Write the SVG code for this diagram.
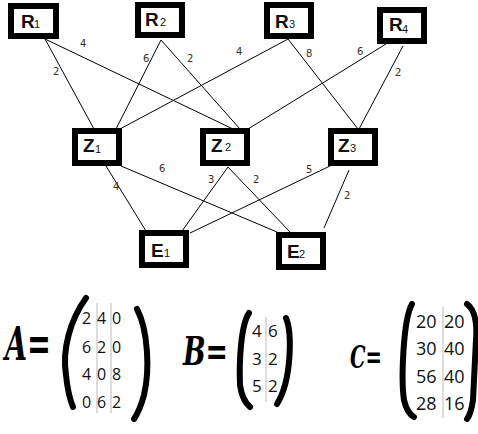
<svg xmlns="http://www.w3.org/2000/svg" width="478" height="434" viewBox="0 0 478 434">
<style>
.box{fill:#fff;stroke:#000;stroke-width:6}
.nl{font-family:"Liberation Sans",Arial,sans-serif;font-weight:bold;font-size:19px;fill:#111}
.sub{font-family:"Liberation Sans",Arial,sans-serif;font-size:11px;fill:#111}
.edge{stroke:#000;stroke-width:1;fill:none}
.el{font-family:"DejaVu Sans",Verdana,sans-serif;font-size:10px;fill:#3a3020}
.md{font-family:"Open Sans","Noto Sans",sans-serif;fill:#111}
.sep{stroke:#bbb;stroke-width:1}
.par{fill:none;stroke:#000;stroke-width:6;stroke-linecap:round}
.hw{font-family:"DejaVu Serif",serif;font-weight:bold;font-style:italic;fill:#000}
</style>
<rect width="478" height="434" fill="#fff"/>
<g id="connectors">
<line class="edge" x1="45" y1="39" x2="94" y2="129"/>
<line class="edge" x1="45" y1="39" x2="233" y2="129"/>
<line class="edge" x1="161" y1="40" x2="116" y2="129"/>
<line class="edge" x1="161" y1="40" x2="240" y2="129"/>
<line class="edge" x1="288" y1="39" x2="120" y2="129"/>
<line class="edge" x1="288" y1="39" x2="358" y2="129"/>
<line class="edge" x1="386" y1="44" x2="248" y2="129"/>
<line class="edge" x1="403" y1="46" x2="359" y2="129"/>
<line class="edge" x1="106" y1="166" x2="146" y2="231"/>
<line class="edge" x1="121" y1="166" x2="277" y2="232"/>
<line class="edge" x1="228" y1="167" x2="182" y2="231"/>
<line class="edge" x1="228" y1="167" x2="290" y2="232"/>
<line class="edge" x1="330" y1="166" x2="190" y2="233"/>
<line class="edge" x1="349" y1="170" x2="324" y2="228"/>
<text class="el" x="53" y="75">2</text>
<text class="el" x="80" y="47">4</text>
<text class="el" x="143" y="62">6</text>
<text class="el" x="187" y="62">2</text>
<text class="el" x="236" y="55">4</text>
<text class="el" x="306" y="57">8</text>
<text class="el" x="357" y="55">6</text>
<text class="el" x="395" y="76">2</text>
<text class="el" x="113" y="190">4</text>
<text class="el" x="159" y="172">6</text>
<text class="el" x="208" y="183">3</text>
<text class="el" x="253" y="183">2</text>
<text class="el" x="306" y="173">5</text>
<text class="el" x="344" y="199">2</text>
</g>
<g id="R1"><rect class="box" x="11" y="6" width="45" height="30"/><text class="nl" x="21" y="28">R</text><text class="sub" x="34" y="28">1</text></g>
<g id="R2"><rect class="box" x="138" y="5" width="44" height="30"/><text class="nl" x="145" y="26">R</text><text class="sub" x="160" y="26">2</text></g>
<g id="R3"><rect class="box" x="267" y="5" width="44" height="31"/><text class="nl" x="275" y="28">R</text><text class="sub" x="289" y="28">3</text></g>
<g id="R4"><rect class="box" x="380" y="10" width="44" height="31"/><text class="nl" x="389" y="31">R</text><text class="sub" x="402" y="33">4</text></g>
<g id="Z1"><rect class="box" x="75" y="131" width="44" height="32"/><text class="nl" x="83" y="152">Z</text><text class="sub" x="95" y="153">1</text></g>
<g id="Z2"><rect class="box" x="203" y="131" width="44" height="32"/><text class="nl" x="211" y="152">Z</text><text class="sub" x="225" y="151">2</text></g>
<g id="Z3"><rect class="box" x="331" y="131" width="44" height="32"/><text class="nl" x="338" y="152">Z</text><text class="sub" x="350" y="152">3</text></g>
<g id="E1"><rect class="box" x="142" y="233" width="44" height="32"/><text class="nl" x="151" y="257">E</text><text class="sub" x="164" y="257">1</text></g>
<g id="E2"><rect class="box" x="279" y="235" width="44" height="32"/><text class="nl" x="287" y="258">E</text><text class="sub" x="299" y="258">2</text></g>
<g id="matrixA">
<text class="hw" x="5" y="360" font-size="46" textLength="46" lengthAdjust="spacingAndGlyphs">A=</text>
<path class="par" d="M86,298 C70,320 62,350 66,375 Q68,395 73,407"/>
<path class="par" d="M137,309 C148,330 150,370 144,395 Q140,410 134,419"/>
<line class="sep" x1="97" y1="303" x2="97" y2="413"/>
<line class="sep" x1="111" y1="303" x2="111" y2="413"/>
<g class="md" font-size="16">
<text x="82 97 112" y="324">240</text>
<text x="82 97 112" y="353">620</text>
<text x="82 97 112" y="380">408</text>
<text x="82 97 112" y="408">062</text>
</g>
</g>
<g id="matrixB">
<text class="hw" x="183" y="365" font-size="40" textLength="45" lengthAdjust="spacingAndGlyphs">B=</text>
<path class="par" d="M249,313 C241,325 239,360 240,385 Q242,400 250,407"/>
<path class="par" d="M286,318 C292,332 292,380 277,404"/>
<line class="sep" x1="266" y1="317" x2="266" y2="402"/>
<g class="md" font-size="17">
<text x="252 268" y="337">46</text>
<text x="252 268" y="365">32</text>
<text x="252 268" y="392">52</text>
</g>
</g>
<g id="matrixC">
<text class="hw" x="350" y="368" font-size="32" textLength="32" lengthAdjust="spacingAndGlyphs">C=</text>
<path class="par" d="M412,304 C403,320 401,380 404,400 Q407,413 414,417"/>
<path class="par" d="M467,304 Q478,312 476,340 L473,400 Q471,414 467,419"/>
<line class="sep" x1="443" y1="307" x2="443" y2="418"/>
<g class="md" font-size="18">
<text x="416" y="328">20</text><text x="444" y="328">20</text>
<text x="416" y="355">30</text><text x="444" y="355">40</text>
<text x="416" y="383">56</text><text x="444" y="383">40</text>
<text x="416" y="410">28</text><text x="444" y="410">16</text>
</g>
</g>
</svg>
